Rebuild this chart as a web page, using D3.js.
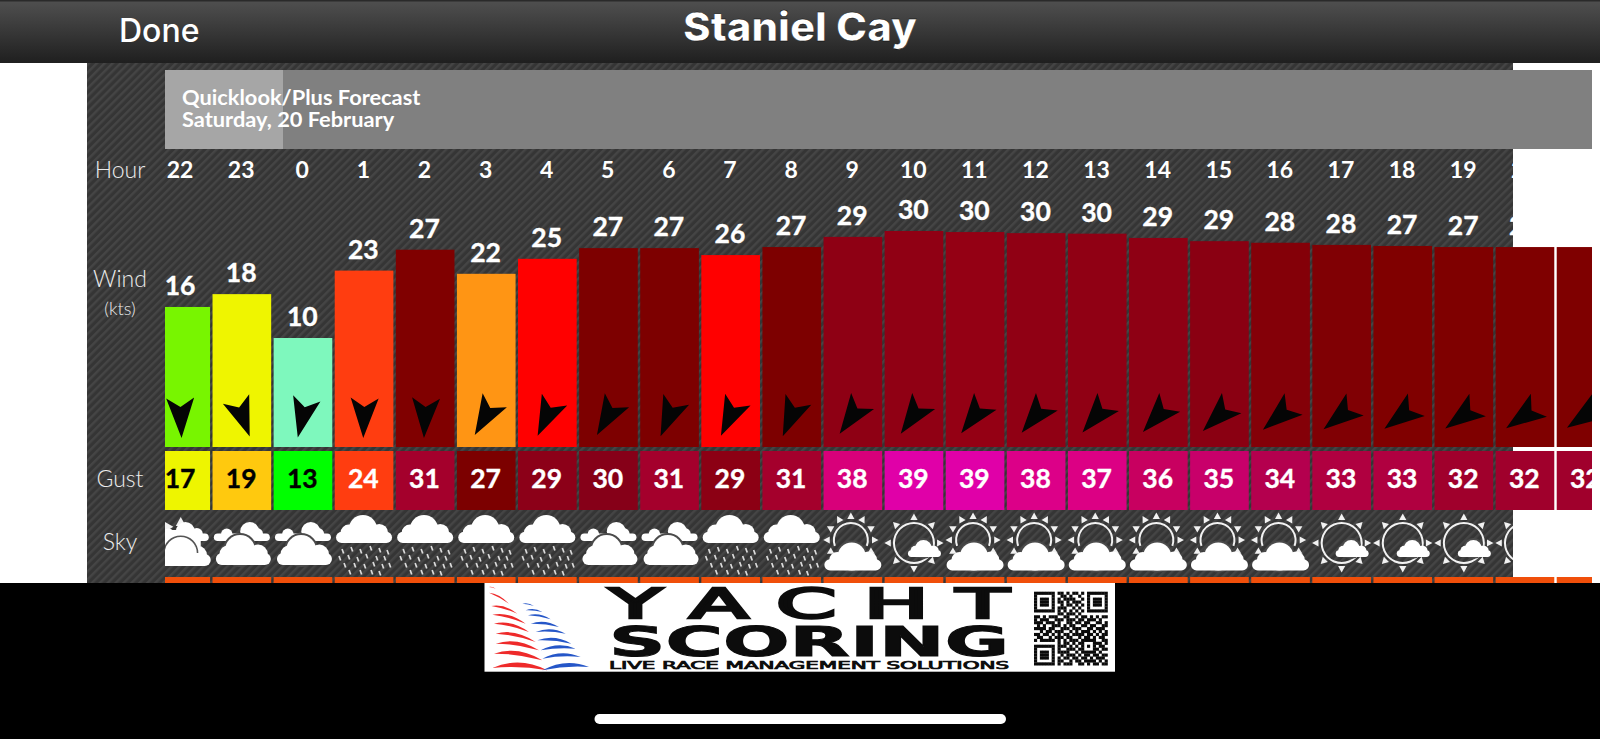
<!DOCTYPE html>
<html><head><meta charset="utf-8">
<script src="https://cdn.jsdelivr.net/npm/d3@7/dist/d3.min.js"></script>
<style>html,body{margin:0;padding:0;background:#000;overflow:hidden}svg{display:block}</style>
</head><body><svg id="c" width="1600" height="739"></svg>
<script>
const hours=[22,23,0,1,2,3,4,5,6,7,8,9,10,11,12,13,14,15,16,17,18,19,20,21];
const windSpeed=[15.8,18.2,10.0,22.6,26.5,22.0,24.8,26.8,26.8,25.5,27.0,28.9,30.0,29.8,29.6,29.5,28.7,28.1,27.8,27.4,27.2,27.0,27.0,27.0];
const windLabel=[16,18,10,23,27,22,25,27,27,26,27,29,30,30,30,30,29,29,28,28,27,27,27,27];
const windColor=['#78f500','#eff500','#7ef8bd','#ff3d10','#800000','#ff9514','#ff0000','#7d0000','#7d0000','#ff0000','#7d0000','#8e0014','#900014','#940014','#900014','#900014','#8e0014','#8a0012','#840008','#800004','#800000','#7f0000','#7f0000','#7f0000'];
const gust=[17,19,13,24,31,27,29,30,31,29,31,38,39,39,38,37,36,35,34,33,33,32,32,32];
const gustColor=['#eef500','#ffc90e','#00ff00','#ff3d10','#a4002c','#7c0000','#8c0018','#860018','#a4002c','#8c0014','#a4002c','#d8007a','#e000a8','#e000a8','#dc0088','#dc0084','#c80060','#c8006a','#b4004e','#b00040','#b00040','#a0002c','#a0002c','#a0002c'];
const windDir=[178,160,193,182,183,210,205,210,203,205,203,215,215,217,219,220,222,226,230,232,233,234,235,236];
const sky=['mix','two','two','rain','rain','rain','rain','two','two','rain','rain','sunBig','sunSmall','sunBig','sunBig','sunBig','sunBig','sunBig','sunBig','sunSmall','sunSmall','sunSmall','sunSmall','none'];
const svg=d3.select('#c');
const defs=svg.append('defs');
const W=1600,H=739;
const font='Lato,"Open Sans",sans-serif';

/* backgrounds */
const hatch=defs.append('pattern').attr('id','hatch').attr('patternUnits','userSpaceOnUse').attr('width',5.6).attr('height',5.6).attr('patternTransform','rotate(45)');
hatch.append('rect').attr('width',5.6).attr('height',5.6).attr('fill','#353535');
hatch.append('rect').attr('width',2.4).attr('height',5.6).attr('fill','#454545');
const hg=defs.append('linearGradient').attr('id','hdr').attr('x1',0).attr('x2',0).attr('y1',0).attr('y2',1);
hg.append('stop').attr('offset',0).attr('stop-color','#505050');
hg.append('stop').attr('offset',1).attr('stop-color','#1f1f1f');
defs.append('clipPath').attr('id','colClip').append('rect').attr('x',165).attr('y',63).attr('width',1427).attr('height',520);
defs.append('clipPath').attr('id','panelClip').append('rect').attr('x',165).attr('y',63).attr('width',1348).attr('height',520);

svg.append('rect').attr('width',W).attr('height',583).attr('fill','#fff');
svg.append('rect').attr('x',87).attr('y',63).attr('width',1426).attr('height',520).attr('fill','url(#hatch)');
svg.append('rect').attr('y',583).attr('width',W).attr('height',H-583).attr('fill','#000');
svg.append('rect').attr('width',W).attr('height',63).attr('fill','url(#hdr)');
svg.append('rect').attr('width',W).attr('height',1.5).attr('fill','#2a2a2a');
svg.append('text').text('Done').attr('x',119).attr('y',41.5).attr('fill','#fff').attr('font-family','Inter,Roboto,sans-serif').attr('font-weight',500).attr('font-size',32);
svg.append('text').text('Staniel Cay').attr('x',683).attr('y',41).attr('textLength',234).attr('lengthAdjust','spacingAndGlyphs').attr('fill','#fff').attr('stroke','#000').attr('stroke-width',0.4).attr('font-family','Inter,"Open Sans",sans-serif').attr('font-weight',800).attr('font-size',40);

/* forecast banner */
svg.append('rect').attr('x',165).attr('y',70).attr('width',1427).attr('height',79).attr('fill','#808080');
svg.append('rect').attr('x',165).attr('y',70).attr('width',118).attr('height',79).attr('fill','#a6a6a6');
svg.append('text').text('Quicklook/Plus Forecast').attr('x',182).attr('y',105).attr('fill','#fff').attr('font-family',font).attr('font-weight',700).attr('font-size',21.8);
svg.append('text').text('Saturday, 20 February').attr('x',182).attr('y',126.5).attr('fill','#fff').attr('font-family',font).attr('font-weight',700).attr('font-size',21.8);

/* row labels */
[['Hour',120,178,23],['Wind',120,287,23],['(kts)',120,315,18],['Gust',120,487,23],['Sky',120,550,23]].forEach(d=>{
 svg.append('text').text(d[0]).attr('x',d[1]).attr('y',d[2]).attr('text-anchor','middle').attr('fill','#ececec').attr('font-family','Lato,sans-serif').attr('font-weight',300).attr('font-size',d[3]);
});

/* scales */
const idx=d3.range(hours.length);
const x=d3.scaleBand().domain(idx).range([150.2,150.2+61.1*24]).paddingInner(0.04).paddingOuter(0.02);
const cx=i=>x(i)+x.bandwidth()/2;
const tx=i=>cx(i)-0.7;
const y=d3.scaleLinear().domain([0,30]).range([391.5,231]);
const barBase=447;

const cols=svg.append('g').attr('clip-path','url(#colClip)');
const panel=svg.append('g').attr('clip-path','url(#panelClip)');

/* hour axis */
const axis=d3.axisTop(x).tickFormat(i=>hours[i]).tickSize(0).tickPadding(0);
const ag=panel.append('g').attr('transform','translate(-0.7,178)').call(axis);
ag.select('.domain').remove();
ag.selectAll('text').attr('fill','#fff').attr('font-family',font).attr('font-weight',700).attr('font-size',23).attr('dy',0);

/* wind */
cols.selectAll('.bar').data(idx).join('rect').attr('x',i=>x(i)).attr('width',x.bandwidth())
 .attr('y',i=>y(windSpeed[i])).attr('height',i=>barBase-y(windSpeed[i])).attr('fill',i=>windColor[i]);
panel.selectAll('.wl').data(idx).join('text').attr('x',tx).attr('y',i=>y(windSpeed[i])-12).attr('text-anchor','middle')
 .attr('fill','#fff').attr('font-family',font).attr('font-weight',700).attr('font-size',26.5).attr('stroke','#fff').attr('stroke-width',.35).text(i=>windLabel[i]);
cols.selectAll('.arrow').data(idx).join('path').attr('d','M0,-23L14,17L0,8L-14,17Z').attr('fill','#050505')
 .attr('transform',i=>`translate(${cx(i)},415) rotate(${windDir[i]})`);

/* gust */
cols.selectAll('.gust').data(idx).join('rect').attr('x',i=>x(i)).attr('width',x.bandwidth()).attr('y',451).attr('height',59).attr('fill',i=>gustColor[i]);
cols.selectAll('.gl').data(idx).join('text').attr('x',tx).attr('y',488).attr('text-anchor','middle')
 .attr('fill',i=>gust[i]<20?'#000':'#fff').attr('stroke',i=>gust[i]<20?'#000':'#fff').attr('stroke-width',.35).attr('font-family',font).attr('font-weight',700).attr('font-size',26.5).text(i=>gust[i]);

/* orange row */
cols.selectAll('.or').data(idx).join('rect').attr('x',i=>x(i)).attr('width',x.bandwidth()).attr('y',577).attr('height',6).attr('fill','#f04f0a');

/* sky icons */
function cloud(g,dx,by,w,h,off,halo){
 const parts=[[dx-w*.27,by-h*.36,h*.30],[dx+off*w,by-h*.5,h*.5],[dx+w*.27,by-h*.36,h*.32]];
 if(halo) g.append('circle').attr('cx',parts[1][0]).attr('cy',parts[1][1]).attr('r',parts[1][2]+2).attr('fill','#4a4a4a');
 parts.forEach(p=>g.append('circle').attr('cx',p[0]).attr('cy',p[1]).attr('r',p[2]).attr('fill','#fff'));
 g.append('rect').attr('x',dx-w/2).attr('y',by-h*.4).attr('width',w).attr('height',h*.4).attr('rx',h*.2).attr('fill','#fff');
}
function sunRays(g,dx,dy,r,from,to,n,s){
 d3.range(n).forEach(k=>{const a=from+(to-from)*k/(n-1);
  g.append('path').attr('d',`M0,${-s}L${s},${s*.8}L${-s},${s*.8}Z`).attr('fill','#f2f2f2').attr('transform',`translate(${dx+r*Math.sin(a*Math.PI/180)},${dy-r*Math.cos(a*Math.PI/180)}) rotate(${a})`);});
}
function arcLine(g,dx,dy,r,a0,a1,col,sw){
 g.append('path').attr('d',d3.arc().innerRadius(r).outerRadius(r+sw).startAngle(a0*Math.PI/180).endAngle(a1*Math.PI/180)()).attr('transform',`translate(${dx},${dy})`).attr('fill',col);
}
const rainDrops=[[-22,2],[-13,0],[-4,2],[6,-1],[15,1],[23,3],[-25,9],[-16,8],[-7,10],[2,7],[12,9],[20,9],[-20,16],[-10,16],[0,17],[9,15],[18,17],[25,16],[-15,23],[-4,23],[7,23],[15,24]];
const draw={
 two:g=>{cloud(g,0,541,56,19,.14,false);cloud(g,1.5,565,55,30,-.06,true);},
 rain:g=>{
  cloud(g,0,543,56,28,-.02,false);
  rainDrops.forEach(d=>g.append('line').attr('x1',d[0]).attr('x2',d[0]+1.6).attr('y1',547+d[1]).attr('y2',551.5+d[1]).attr('stroke','#dcdcdc').attr('stroke-width',1.7));
 },
 mix:g=>{
  sunRays(g,0,548,26,-32,0,2,5);
  cloud(g,2,541,52,19,.05,false);
  cloud(g,1,566,58,30,-.03,false);
  g.append('rect').attr('x',-18).attr('y',530).attr('width',38).attr('height',16).attr('fill','#fff');
  arcLine(g,0,553,16,-90,90,'#555',1.6);
 },
 sunBig:g=>{
  arcLine(g,-2,540,16,-110,110,'#f2f2f2',2);
  sunRays(g,-2,540,24,-120,120,9,3.6);
  cloud(g,0,570.5,57,28,-.02,true);
 },
 sunSmall:g=>{
  arcLine(g,0,543,19,0,360,'#f2f2f2',2);
  sunRays(g,0,543,26,-180,135,8,3.6);
  cloud(g,10.5,557,33,17,-.03,true);
 },
 none:()=>{}
};
idx.forEach(i=>{const g=panel.append('g').attr('transform',`translate(${cx(i)},0)`);draw[sky[i]](g);});

/* sponsor logo */
svg.append('rect').attr('x',484.5).attr('y',583).attr('width',630.5).attr('height',88.7).attr('fill','#fff');
const logoFont='"DejaVu Sans",sans-serif';
[['Y A C H T',618,41,400,400,2.6],['SCORING',656,41,400,700,1],['LIVE RACE MANAGEMENT SOLUTIONS',669,10,400,400,.7]].forEach(d=>{
 svg.append('text').text(d[0]).attr('x',609).attr('y',d[1]).attr('font-family',logoFont).attr('font-weight',d[4]).attr('font-size',d[2])
  .attr('textLength',d[3]).attr('lengthAdjust','spacingAndGlyphs').attr('fill','#0c0c0c').attr('stroke','#0c0c0c').attr('stroke-width',d[5]);
});
const sailRed=[[15,15,35,20],[15,32,75,65],[22,72,100,95],[25,98,125,125],[30,125,135,150],[35,155,155,180],[35,185,165,205],[30,215,175,235],[25,258,190,265]];
const sailBlue=[[115,65,150,72],[125,85,175,90],[132,100,200,112],[140,125,225,135],[155,150,245,155],[160,175,262,185],[170,205,275,200],[175,230,290,225],[175,265,315,255]];
const sails=svg.append('g').attr('transform','translate(484,582) scale(.3333)');
function sail(list,col){list.forEach(d=>{
 const mx=(d[0]+d[2])/2,my=(d[1]+d[3])/2,len=d[2]-d[0];
 sails.append('path').attr('d',`M${d[0]},${d[1]}Q${mx},${my-len*.24} ${d[2]},${d[3]}Q${mx},${my-len*.07} ${d[0]},${d[1]}Z`).attr('fill',col);
});}
sail(sailRed,'#ee2a2a');sail(sailBlue,'#2556c8');
const qr=[
"1111111011010110101111111",
"1000001001101001001000001",
"1011101010111100101011101",
"1011101011010111001011101",
"1011101001011010101011101",
"1000001011100101001000001",
"1111111010101010101111111",
"0000000011011101000000000",
"1101011100110010110101011",
"1011100111011101101110100",
"1110111010011011011001101",
"0101001110101100110110011",
"1111011001110111001101110",
"0010110111001010111010101",
"1101101010110111101101011",
"0110010111011001011010110",
"1011111010101110111110011",
"0000000010110101100011101",
"1111111011101010101010110",
"1000001010011101100011011",
"1011101011110010111110100",
"1011101001011101011011011",
"1011101010110110110101110",
"1000001011001011011110101",
"1111111010111001101011011"];
const qs=d3.scaleBand().domain(d3.range(25)).range([0,73.6]);
const qg=svg.append('g').attr('transform','translate(1034,591.7)');
qr.forEach((row,r)=>row.split('').forEach((c,k)=>{if(c==='1')qg.append('rect').attr('x',qs(k)).attr('y',qs(r)).attr('width',qs.bandwidth()+.2).attr('height',qs.bandwidth()+.2).attr('fill','#0a0a0a');}));

/* home indicator */
svg.append('rect').attr('x',594.5).attr('y',714).attr('width',411.5).attr('height',10).attr('rx',5).attr('fill','#fff');
</script></body></html>
